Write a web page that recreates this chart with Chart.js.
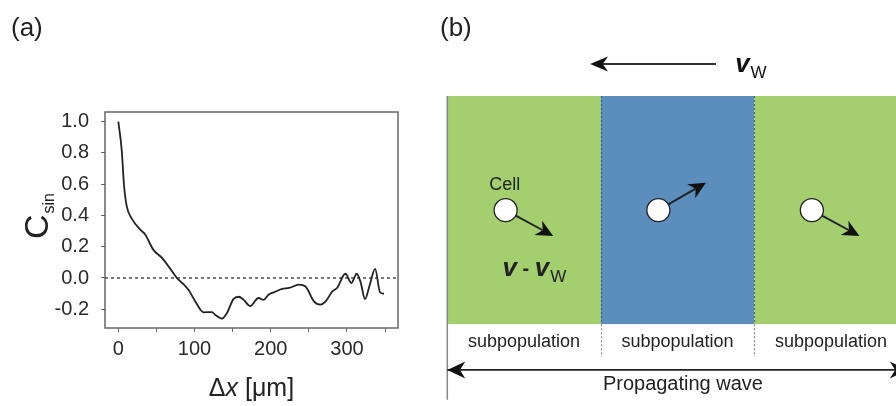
<!DOCTYPE html>
<html>
<head>
<meta charset="utf-8">
<script src="https://cdn.jsdelivr.net/npm/chart.js@4.4.0/dist/chart.umd.min.js"></script>
<style>
  body { margin: 0; background: #fff; width: 896px; height: 406px; overflow: hidden; position: relative; }
  #wrapA { position: absolute; left: 0; top: 0; width: 430px; height: 406px; }
  #wrapB { position: absolute; left: 440px; top: 0; width: 456px; height: 406px; }
</style>
</head>
<body>
<div id="wrapA"><canvas id="corr" width="430" height="406"></canvas></div>
<div id="wrapB"><canvas id="wave" width="456" height="406"></canvas></div>
<script>
// (a) spatial correlation C_sin against distance dx
var dx = [0, 4.4, 7.5, 11, 17.6, 30.8, 35, 46, 57, 68, 76.8, 85.5, 92, 101, 112, 123, 127, 136, 142.6,
          151, 158, 164.5, 173, 184, 190.8, 197, 204, 215, 224, 237, 245.6, 256.6, 265, 272, 280.8,
          287, 298, 305.8, 312.8, 318, 323.7, 330, 337, 343.5, 348.7];
var csin = [1.0, 0.82, 0.59, 0.46, 0.38, 0.30, 0.28, 0.18, 0.13, 0.06, 0.0, -0.04, -0.075, -0.15, -0.22,
            -0.218, -0.235, -0.26, -0.224, -0.135, -0.12, -0.14, -0.18, -0.128, -0.14, -0.107, -0.092,
            -0.07, -0.064, -0.043, -0.054, -0.15, -0.171, -0.15, -0.086, -0.064, 0.027, -0.032, 0.027,
            -0.028, -0.135, -0.043, 0.058, -0.092, -0.1];
var xTicks = [0, 50, 100, 150, 200, 250, 300, 350];
var yTicks = [-0.2, 0, 0.2, 0.4, 0.6, 0.8, 1.0];

// (b) wave sketch: bands, cells and their velocities
var bandEdges = [0, 1, 2, 3];
var bandColors = ['#a3cf6f', '#5b8ebd', '#a3cf6f'];
var bandLabels = ['subpopulation', 'subpopulation', 'subpopulation'];
var cellX = [0.38, 1.375, 2.375];
var cellY = [0.5, 0.5, 0.5];
var cellVx = [0.31, 0.31, 0.31];
var cellVy = [-0.113, 0.12, -0.113];
var waveFrom = 1.75, waveTo = 0.93;

var FONT = '"Liberation Sans", Arial, sans-serif';

function arrow(ctx, x1, y1, x2, y2, len, half, both) {
   var a = Math.atan2(y2 - y1, x2 - x1);
   ctx.beginPath();
   ctx.moveTo(x1, y1);
   ctx.lineTo(x2 - Math.cos(a) * len * 0.7, y2 - Math.sin(a) * len * 0.7);
   ctx.stroke();
   head(ctx, x2, y2, a, len, half);
   if (both) head(ctx, x1, y1, a + Math.PI, len, half);
}

function head(ctx, x, y, a, len, half) {
   ctx.beginPath();
   ctx.moveTo(x, y);
   ctx.lineTo(x - Math.cos(a) * len - Math.sin(a) * half, y - Math.sin(a) * len + Math.cos(a) * half);
   ctx.lineTo(x - Math.cos(a) * len * 0.7, y - Math.sin(a) * len * 0.7);
   ctx.lineTo(x - Math.cos(a) * len + Math.sin(a) * half, y - Math.sin(a) * len - Math.cos(a) * half);
   ctx.closePath();
   ctx.fill();
}

// bold italic v with a W subscript
function velocity(ctx, x, y) {
   ctx.font = 'italic bold 26px ' + FONT;
   ctx.fillText('v', x, y);
   var w = ctx.measureText('v').width;
   ctx.font = '17px ' + FONT;
   ctx.fillText('W', x + w + 1, y + 6);
   return w + 1 + ctx.measureText('W').width;
}

var corrDecor = {
   id: 'corrDecor',
   beforeDatasetsDraw: function (chart) {
      var ctx = chart.ctx, a = chart.chartArea;
      var y0 = chart.scales.y.getPixelForValue(0);
      ctx.save();
      ctx.strokeStyle = '#333';
      ctx.lineWidth = 1.3;
      ctx.setLineDash([3, 3]);
      ctx.beginPath();
      ctx.moveTo(a.left, y0);
      ctx.lineTo(a.right, y0);
      ctx.stroke();
      ctx.restore();
   },
   afterDraw: function (chart) {
      var ctx = chart.ctx, a = chart.chartArea;
      ctx.save();
      ctx.strokeStyle = '#666';
      ctx.lineWidth = 1.5;
      ctx.strokeRect(a.left, a.top, a.right - a.left, a.bottom - a.top);

      ctx.fillStyle = '#222';
      ctx.textBaseline = 'alphabetic';
      ctx.textAlign = 'left';
      ctx.font = '26px ' + FONT;
      ctx.fillText('(a)', 11, 36);

      // x title
      var sz = '25px ';
      ctx.font = sz + FONT;
      var t1 = '\u0394', t2 = 'x', t3 = ' [\u03bcm]';
      var w1 = ctx.measureText(t1).width, w3 = ctx.measureText(t3).width;
      ctx.font = 'italic ' + sz + FONT;
      var w2 = ctx.measureText(t2).width;
      var cx = (a.left + a.right) / 2, x = cx - (w1 + w2 + w3) / 2;
      ctx.font = sz + FONT;
      ctx.fillText(t1, x, 396);
      ctx.font = 'italic ' + sz + FONT;
      ctx.fillText(t2, x + w1, 396);
      ctx.font = sz + FONT;
      ctx.fillText(t3, x + w1 + w2, 396);

      // y title
      ctx.translate(48, 239);
      ctx.rotate(-Math.PI / 2);
      ctx.font = '34px ' + FONT;
      ctx.fillText('C', 0, 0);
      var wc = ctx.measureText('C').width;
      ctx.font = '16px ' + FONT;
      ctx.fillText('sin', wc + 1, 6);
      ctx.restore();
   }
};

new Chart(document.getElementById('corr'), {
   type: 'line',
   data: {
      datasets: [{
         data: dx.map(function (x, i) { return { x: x, y: csin[i] }; }),
         borderColor: '#222',
         borderWidth: 1.8,
         pointRadius: 0,
         cubicInterpolationMode: 'monotone',
         fill: false
      }]
   },
   options: {
      responsive: false,
      animation: false,
      devicePixelRatio: 1,
      layout: { autoPadding: false, padding: { left: 0, top: 112, right: 32, bottom: 48 } },
      plugins: { legend: { display: false }, tooltip: { enabled: false } },
      scales: {
         x: {
            type: 'linear',
            min: -17.5,
            max: 367,
            afterBuildTicks: function (s) { s.ticks = xTicks.map(function (v) { return { value: v }; }); },
            afterFit: function (s) { s.height = 30; },
            ticks: {
               autoSkip: false,
               maxRotation: 0,
               padding: 5,
               color: '#2a2a2a',
               font: { family: FONT, size: 20 },
               callback: function (v) { return v % 100 === 0 ? String(v) : ''; }
            },
            grid: { drawOnChartArea: false, tickLength: 4, tickColor: '#666' },
            border: { display: false }
         },
         y: {
            type: 'linear',
            min: -0.32,
            max: 1.062,
            afterBuildTicks: function (s) { s.ticks = yTicks.map(function (v) { return { value: v }; }); },
            afterFit: function (s) { s.width = 105; },
            ticks: {
               padding: 12,
               color: '#2a2a2a',
               font: { family: FONT, size: 20 },
               callback: function (v) { return v.toFixed(1); }
            },
            grid: { drawOnChartArea: false, tickLength: 4, tickColor: '#666' },
            border: { display: false }
         }
      }
   },
   plugins: [corrDecor]
});

var waveDecor = {
   id: 'waveDecor',
   beforeDatasetsDraw: function (chart) {
      var ctx = chart.ctx, a = chart.chartArea;
      var xs = chart.scales.x, ys = chart.scales.y;
      var top = ys.getPixelForValue(1), bot = ys.getPixelForValue(0);
      ctx.save();

      // colour bands
      ctx.save();
      ctx.beginPath();
      ctx.rect(a.left, a.top, a.right - a.left, a.bottom - a.top);
      ctx.clip();
      for (var i = 0; i < bandColors.length; i++) {
         var l = xs.getPixelForValue(bandEdges[i]), r = xs.getPixelForValue(bandEdges[i + 1]);
         ctx.fillStyle = bandColors[i];
         ctx.fillRect(l, top, r - l, bot - top);
      }
      ctx.restore();

      // dotted band borders
      ctx.lineWidth = 1.2;
      ctx.setLineDash([2, 2]);
      for (var j = 1; j < bandEdges.length - 1; j++) {
         var bx = Math.round(xs.getPixelForValue(bandEdges[j])) + 0.5;
         ctx.strokeStyle = 'rgba(60,75,100,0.75)';
         ctx.beginPath();
         ctx.moveTo(bx, top);
         ctx.lineTo(bx, bot);
         ctx.stroke();
         ctx.strokeStyle = '#888';
         ctx.beginPath();
         ctx.moveTo(bx, bot);
         ctx.lineTo(bx, ys.getPixelForValue(-0.142));
         ctx.stroke();
      }
      ctx.setLineDash([]);

      // left edge
      var lx = xs.getPixelForValue(0);
      ctx.strokeStyle = '#888';
      ctx.lineWidth = 1.5;
      ctx.beginPath();
      ctx.moveTo(lx, top);
      ctx.lineTo(lx, ys.getPixelForValue(-0.33));
      ctx.stroke();

      // band labels
      ctx.fillStyle = '#222';
      ctx.font = '18px ' + FONT;
      ctx.textAlign = 'center';
      ctx.textBaseline = 'middle';
      for (var k = 0; k < bandLabels.length; k++) {
         ctx.fillText(bandLabels[k], xs.getPixelForValue((bandEdges[k] + bandEdges[k + 1]) / 2), ys.getPixelForValue(-0.076));
      }

      // propagating wave span
      ctx.strokeStyle = '#222';
      ctx.fillStyle = '#111';
      ctx.lineWidth = 1.7;
      var wy = ys.getPixelForValue(-0.2);
      arrow(ctx, xs.getPixelForValue(bandEdges[0]), wy, xs.getPixelForValue(bandEdges[3]), wy, 18, 8.5, true);
      ctx.fillStyle = '#222';
      ctx.font = '20px ' + FONT;
      ctx.fillText('Propagating wave', xs.getPixelForValue(1.535), ys.getPixelForValue(-0.262));

      // wave velocity
      ctx.strokeStyle = '#333';
      ctx.fillStyle = '#111';
      ctx.lineWidth = 2;
      var vy = ys.getPixelForValue(1.14);
      arrow(ctx, xs.getPixelForValue(waveFrom), vy, xs.getPixelForValue(waveTo), vy, 18, 7.5, false);
      ctx.textAlign = 'left';
      ctx.textBaseline = 'alphabetic';
      velocity(ctx, xs.getPixelForValue(1.875), vy + 8);

      // panel label
      ctx.fillStyle = '#222';
      ctx.font = '26px ' + FONT;
      ctx.fillText('(b)', 0, 36);
      ctx.restore();
   },
   afterDatasetsDraw: function (chart) {
      var ctx = chart.ctx;
      var xs = chart.scales.x, ys = chart.scales.y;
      ctx.save();
      ctx.strokeStyle = '#222';
      ctx.fillStyle = '#111';
      ctx.lineWidth = 1.9;
      for (var i = 0; i < cellX.length; i++) {
         var cx = xs.getPixelForValue(cellX[i]), cy = ys.getPixelForValue(cellY[i]);
         var ex = xs.getPixelForValue(cellX[i] + cellVx[i]), ey = ys.getPixelForValue(cellY[i] + cellVy[i]);
         var d = Math.hypot(ex - cx, ey - cy);
         var sx = cx + (ex - cx) / d * 11.5, sy = cy + (ey - cy) / d * 11.5;
         arrow(ctx, sx, sy, ex, ey, 17, 8, false);
      }

      ctx.fillStyle = '#222';
      ctx.textAlign = 'center';
      ctx.textBaseline = 'alphabetic';
      ctx.font = '18px ' + FONT;
      ctx.fillText('Cell', xs.getPixelForValue(0.375), ys.getPixelForValue(0.59));

      // relative velocity label
      ctx.textAlign = 'left';
      var x0 = xs.getPixelForValue(0.36), y0 = ys.getPixelForValue(0.21);
      ctx.font = 'italic bold 26px ' + FONT;
      ctx.fillText('v', x0, y0);
      var w = ctx.measureText('v').width;
      ctx.font = 'bold 20px ' + FONT;
      ctx.fillText(' - ', x0 + w, y0 - 1);
      w += ctx.measureText(' - ').width;
      velocity(ctx, x0 + w, y0);
      ctx.restore();
   }
};

new Chart(document.getElementById('wave'), {
   type: 'scatter',
   data: {
      datasets: [{
         data: cellX.map(function (x, i) { return { x: x, y: cellY[i] }; }),
         pointRadius: 11.5,
         pointBackgroundColor: '#fff',
         pointBorderColor: '#222',
         pointBorderWidth: 1.3,
         clip: false
      }]
   },
   options: {
      responsive: false,
      animation: false,
      devicePixelRatio: 1,
      layout: { autoPadding: false, padding: { left: 7.3, right: 0, top: 96, bottom: 81.7 } },
      plugins: { legend: { display: false }, tooltip: { enabled: false } },
      scales: {
         x: { type: 'linear', display: false, min: 0, max: 2.923 },
         y: { type: 'linear', display: false, min: 0, max: 1 }
      }
   },
   plugins: [waveDecor]
});
</script>
</body>
</html>
